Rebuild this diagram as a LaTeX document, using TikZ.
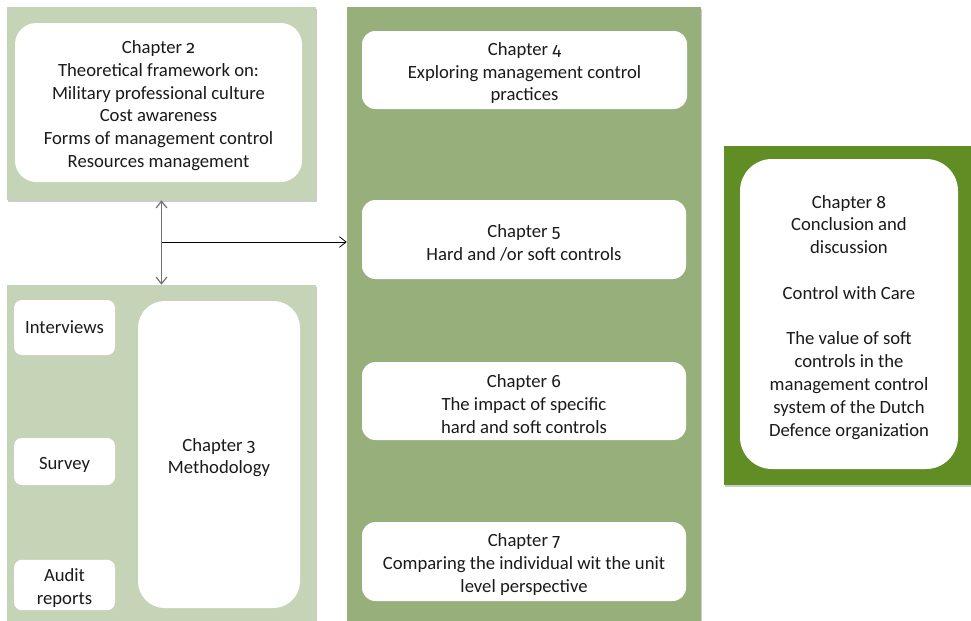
\documentclass[tikz,border=0pt]{standalone}
\usepackage{fontspec}
\setmainfont{Carlito}
\newfontfamily\digitfont{Fira Sans}[Numbers=OldStyle,Scale=0.95]
\newcommand\chnum[1]{{\digitfont #1}}
\newcommand\tup{\rule{0pt}{14.5pt}}
\usetikzlibrary{arrows.meta,shadows}
\definecolor{palegreen}{HTML}{C5D3B7}
\definecolor{midgreen}{HTML}{97AF7A}
\definecolor{darkgreen}{HTML}{608E24}
\definecolor{ink}{HTML}{1A1A1A}
\definecolor{arrowgray}{HTML}{707070}
\begin{document}
\begin{tikzpicture}[x=0.75pt,y=-0.75pt,
  panel/.style={rectangle, inner sep=0pt, draw=none,
    drop shadow={shadow xshift=1pt,shadow yshift=-1.5pt,opacity=0.4}},
  wbox/.style={rectangle, fill=white, inner sep=2pt, align=center, text=ink,
    font=\fontsize{14}{17.1}\selectfont},
  barb/.style={-{Straight Barb[length=5pt,width=8pt]}},
]
\useasboundingbox (0,0) rectangle (971,621);
% panels
\node[panel, fill=palegreen, minimum width=231.75pt, minimum height=144.75pt] (P1) at (161.5,103.5) {};
\node[panel, fill=palegreen, minimum width=231.75pt, minimum height=258.75pt] (P2) at (161.5,457.5) {};
\node[panel, fill=midgreen, minimum width=265.5pt, minimum height=467.25pt] (P3) at (524,318.5) {};
\node[panel, fill=darkgreen, minimum width=192pt, minimum height=254.25pt] (P4) at (852,315.5) {};
% white boxes
\node[wbox, rounded corners=16pt, minimum width=215.25pt, minimum height=119.25pt] (ch2) at (158.5,102.5)
  {\tup Chapter \chnum{2}\\Theoretical framework on:\\Military professional culture\\Cost awareness\\Forms of management control\\Resources management};
\node[wbox, rounded corners=6pt, minimum width=75.75pt, minimum height=41.25pt] (int) at (64.5,327.5) {Interviews};
\node[wbox, rounded corners=6pt, minimum width=75.75pt, minimum height=35.25pt] (sur) at (64.5,461.5) {\tup Survey};
\node[wbox, rounded corners=6pt, minimum width=75.75pt, minimum height=34.5pt] (aud) at (64.5,585) {\tup Audit\\reports};
\node[wbox, rounded corners=20pt, minimum width=121.5pt, minimum height=230.25pt] (ch3) at (219,454.5) {\tup Chapter \chnum{3}\\Methodology};
\node[wbox, rounded corners=10pt, minimum width=243.75pt, minimum height=58.5pt] (ch4) at (524.5,70)
  {\tup Chapter \chnum{4}\\Exploring management control\\practices};
\node[wbox, rounded corners=10pt, minimum width=243pt, minimum height=59.25pt] (ch5) at (524,239.5)
  {\tup Chapter \chnum{5}\\Hard and /or soft controls};
\node[wbox, rounded corners=10pt, minimum width=243pt, minimum height=58.5pt] (ch6) at (524,401)
  {\tup Chapter \chnum{6}\\The impact of specific\\hard and soft controls};
\node[wbox, rounded corners=10pt, minimum width=243pt, minimum height=59.25pt] (ch7) at (524,561.5)
  {\tup Chapter \chnum{7}\\Comparing the individual wit the unit\\level perspective};
\node[wbox, rounded corners=24pt, minimum width=163.5pt, minimum height=232.5pt] (ch8) at (849,314)
  {\tup Chapter \chnum{8}\\Conclusion and\\discussion\\~\\Control with Care\\~\\The value of soft\\controls in the\\management control\\system of the Dutch\\Defence organization};
% connectors
\draw[arrowgray, line width=0.9pt, {Straight Barb[length=5pt,width=8pt]}-{Straight Barb[length=5pt,width=8pt]}] (P1.south) -- (P2.north);
\coordinate (j) at (161.5,242);
\draw[black, line width=0.6pt, barb] (j) -- (j -| P3.west);
\end{tikzpicture}
\end{document}
